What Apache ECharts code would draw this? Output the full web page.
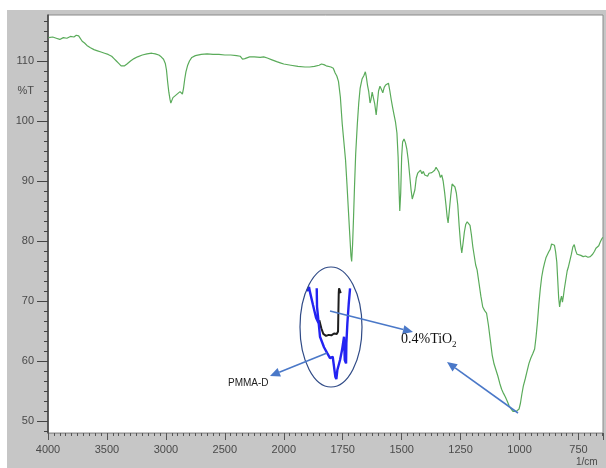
<!DOCTYPE html>
<html>
<head>
<meta charset="utf-8">
<script src="https://cdn.jsdelivr.net/npm/echarts@6/dist/echarts.min.js"></script>
<style>
  html, body { margin: 0; padding: 0; background: #fff; }
  #frame { position: absolute; left: 7px; top: 10px; width: 599px; height: 458px; background: #c6c6c6; }
  #c { position: absolute; left: 0; top: 0; width: 606px; height: 468px; }
</style>
</head>
<body>
<div id="frame"></div>
<div id="c"></div>
<script>
// FTIR spectrum, wavenumber (1/cm) vs %T
const wavenumbers = [
  3995, 3960, 3930, 3900, 3870, 3840, 3810, 3780, 3760, 3748, 3740, 3725, 3710, 3690, 3670, 3640,
  3610, 3580, 3550, 3520, 3490, 3460, 3440, 3420, 3400, 3380, 3365, 3350, 3330, 3300, 3270, 3240,
  3200, 3160, 3120, 3090, 3060, 3040, 3020, 3005, 2995, 2985, 2975, 2965, 2958, 2950, 2940, 2925,
  2910, 2895, 2880, 2870, 2860, 2850, 2840, 2830, 2815, 2800, 2780, 2750, 2700, 2650, 2600, 2550,
  2500, 2450, 2400, 2370, 2360, 2350, 2340, 2330, 2315, 2290, 2250, 2200, 2170, 2140, 2100, 2060,
  2030, 2000, 1970, 1940, 1910, 1890, 1870, 1850, 1840, 1830, 1820, 1812, 1800, 1790, 1782, 1775,
  1768, 1760, 1752, 1745, 1738, 1732, 1726, 1720, 1715, 1712, 1708, 1704, 1700, 1695, 1688, 1682,
  1676, 1668, 1660, 1654, 1650, 1645, 1640, 1634, 1630, 1625, 1620, 1614, 1608, 1603, 1598, 1592,
  1586, 1580, 1574, 1568, 1562, 1556, 1550, 1544, 1538, 1532, 1526, 1520, 1515, 1511, 1508, 1504,
  1500, 1496, 1490, 1484, 1478, 1472, 1466, 1460, 1455, 1450, 1444, 1438, 1432, 1426, 1420, 1414,
  1408, 1402, 1396, 1390, 1384, 1378, 1372, 1366, 1360, 1354, 1348, 1342, 1336, 1330, 1324, 1318,
  1312, 1307, 1303, 1298, 1292, 1286, 1280, 1274, 1268, 1262, 1256, 1250, 1245, 1240, 1234, 1228,
  1222, 1216, 1210, 1204, 1198, 1192, 1186, 1180, 1172, 1164, 1156, 1148, 1140, 1132, 1124, 1116,
  1108, 1100, 1092, 1084, 1076, 1068, 1060, 1052, 1044, 1036, 1028, 1020, 1014, 1008, 1002, 996,
  990, 984, 976, 968, 960, 952, 944, 936, 930, 924, 918, 912, 906, 900, 894, 888,
  882, 876, 870, 864, 858, 852, 847, 842, 838, 834, 830, 826, 822, 818, 814, 810,
  804, 798, 792, 786, 780, 774, 768, 762, 756, 750, 740, 730, 720, 710, 700, 690,
  682, 676, 670, 664, 658, 652, 647
];
const transmittance = [
  113.9, 114.0, 113.8, 113.6, 113.9, 113.8, 114.1, 114.0, 114.3, 114.6, 114.2, 113.9, 113.3, 113.0, 112.6, 112.2,
  111.9, 111.7, 111.5, 111.3, 111.1, 110.8, 110.4, 110.0, 109.6, 109.2, 109.0, 109.2, 109.5, 110.0, 110.4, 110.7,
  111.0, 111.2, 111.3, 111.2, 111.0, 110.7, 110.3, 109.6, 108.5, 106.5, 104.8, 103.6, 103.0, 103.4, 103.9, 104.2,
  104.4, 104.7, 104.9, 104.6, 104.5, 105.5, 107.0, 108.2, 109.3, 110.0, 110.6, 110.9, 111.1, 111.2, 111.1, 111.1,
  111.0, 111.0, 110.9, 110.8, 110.6, 110.3, 110.6, 110.4, 110.7, 110.7, 110.7, 110.6, 110.7, 110.5, 110.2, 109.9,
  109.7, 109.5, 109.3, 109.1, 109.0, 109.0, 109.1, 109.3, 109.5, 109.4, 109.2, 109.4, 109.0, 108.8, 108.0, 107.5,
  106.6, 104.0, 99.5, 96.5, 93.5, 89.5, 85.2, 81.0, 77.5, 76.6, 79.5, 84.0, 89.0, 94.5, 99.5, 103.0,
  105.5, 107.0, 107.6, 108.2, 107.4, 106.0, 105.0, 103.0, 103.6, 104.8, 104.5, 102.8, 101.0, 103.0, 105.0, 105.8,
  105.3, 104.7, 105.6, 106.0, 105.7, 106.3, 105.0, 103.5, 102.2, 101.0, 99.8, 98.0, 94.0, 88.5, 85.0, 88.0,
  94.0, 96.5, 97.0, 96.4, 95.3, 93.5, 91.0, 88.5, 87.0, 86.8, 88.5, 90.5, 91.3, 91.0, 91.8, 91.2,
  91.6, 91.0, 90.7, 90.8, 91.3, 91.6, 91.4, 91.2, 91.8, 92.3, 92.2, 91.5, 90.6, 91.0, 90.0, 88.2,
  86.0, 84.0, 83.0, 85.0, 87.5, 89.5, 89.8, 89.0, 88.0, 86.0, 82.5, 79.5, 78.0, 79.5, 81.5, 82.8,
  83.2, 83.0, 82.6, 81.0, 79.0, 77.5, 76.0, 75.2, 73.0, 70.8, 69.0, 68.4, 68.0, 66.0, 63.5, 61.0,
  59.5, 58.5, 57.5, 56.3, 55.3, 54.6, 54.0, 53.3, 52.5, 52.0, 51.6, 51.4, 51.6, 51.5, 52.0, 53.0,
  54.5, 55.8, 57.0, 58.3, 59.6, 60.5, 61.2, 62.0, 64.0, 66.5, 69.5, 72.0, 74.0, 75.3, 76.3, 77.2,
  77.7, 78.2, 78.6, 79.5, 79.6, 79.3, 78.2, 76.5, 73.5, 70.5, 69.0, 70.2, 70.8, 69.8, 70.8, 72.0,
  73.5, 75.0, 75.8, 76.8, 77.8, 79.0, 79.4, 78.4, 77.8, 77.5, 77.6, 77.4, 77.5, 77.3, 77.4, 77.8,
  78.3, 78.8, 78.6, 79.2, 79.8, 80.3, 80.6
];

// Inset: carbonyl region of the two samples
const insetPmmaWn = [1783.8, 1779.2, 1776.9, 1770.0, 1763.0, 1756.8, 1760.7, 1761.4, 1760.7, 1756.8,
  1753.8, 1744.6, 1736.9, 1730.7, 1724.5, 1721.5, 1718.5, 1716.1, 1713.8, 1707.6, 1703.0, 1698.4,
  1696.7, 1693.7, 1693.0, 1690.7, 1687.5, 1684.5];
const insetPmmaT = [73.7, 74.6, 73.5, 70.8, 68.1, 66.9, 70.4, 74.3, 70.4, 66.9,
  64.1, 61.9, 60.6, 59.6, 59.9, 57.8, 55.7, 55.2, 57.1, 59.2, 61.3, 64.1,
  59.2, 58.5, 62.7, 66.9, 71.1, 74.3];
const insetTiO2Wn = [1755.4, 1750.8, 1746.2, 1739.9, 1733.7, 1727.7, 1721.5, 1715.2, 1712.2, 1711.5, 1710.6, 1709.9,
  1706.0, 1706.0];
const insetTiO2T = [67.6, 65.9, 64.7, 64.3, 64.5, 64.4, 64.8, 64.7, 65.2, 69.0, 73.3, 74.3, 74.3, 73.3];

// Axis labels
const xTickLabels = [4000, 3500, 3000, 2500, 2000, 1750, 1500, 1250, 1000, 750];
const yTickLabels = [50, 60, 70, 80, 90, 100, 110];

// Instrument-style split scale: 1/cm above 2000 at half the resolution of below 2000
function toAxis(w) { return w >= 2000 ? 4000 - w : 2000 + 2 * (2000 - w); }

const Y_MIN = 48, Y_MAX = 117.67;
const minorY = [];
for (let k = 0; ; k++) {
  const v = 50 + (k - 1) * 10 / 6;
  if (v > Y_MAX) break;
  if (v >= Y_MIN) minorY.push(v);
}

const spectrum = wavenumbers.map((w, i) => [toAxis(w), transmittance[i]]);
const pmma = insetPmmaWn.map((w, i) => [w, insetPmmaT[i]]);
const tio2 = insetTiO2Wn.map((w, i) => [w, insetTiO2T[i]]);

// arrow helper: line + filled head
const ARROW = '#4a78c8';
function arrow(x1, y1, x2, y2) {
  const dx = x2 - x1, dy = y2 - y1, L = Math.hypot(dx, dy);
  const ux = dx / L, uy = dy / L, px = -uy, py = ux;
  const hl = 10, hw = 4.5;
  const bx = x2 - ux * hl, by = y2 - uy * hl;
  return [
    { type: 'line', z: 100, shape: { x1: x1, y1: y1, x2: bx, y2: by }, style: { stroke: ARROW, lineWidth: 1.6 } },
    { type: 'polygon', z: 100, shape: { points: [[x2, y2], [bx + px * hw, by + py * hw], [bx - px * hw, by - py * hw]] },
      style: { fill: ARROW } }
  ];
}

const chart = echarts.init(document.getElementById('c'), null, { renderer: 'canvas' });
const labelFont = { color: '#4a4a4a', fontSize: 11, fontFamily: 'Liberation Sans, Arial, sans-serif' };

chart.setOption({
  animation: false,
  backgroundColor: 'transparent',
  grid: [
    { left: 48, right: 2, top: 15, bottom: 35, show: true, backgroundColor: '#ffffff', borderColor: '#8a8a8a', borderWidth: 1 },
    { left: 300, top: 285, width: 52, height: 95, show: false }
  ],
  xAxis: [
    {
      type: 'value', gridIndex: 0, min: 0, max: toAxis(646), interval: 500,
      axisLine: { show: true, lineStyle: { color: '#9a9a9a', width: 1 } },
      axisTick: { show: true, length: 7, lineStyle: { color: '#555' } },
      minorTick: { show: true, splitNumber: 10, length: 3, lineStyle: { color: '#555' } },
      axisLabel: Object.assign({ margin: 11, formatter: v => { const i = Math.round(v / 500); return (Math.abs(v - i * 500) < 1e-6 && i < xTickLabels.length) ? String(xTickLabels[i]) : ''; } }, labelFont),
      splitLine: { show: false }
    },
    { type: 'value', gridIndex: 1, min: 1680, max: 1800, inverse: true, show: false }
  ],
  yAxis: [
    {
      type: 'value', gridIndex: 0, min: Y_MIN, max: Y_MAX,
      axisLine: { show: true, lineStyle: { color: '#3c3c3c', width: 1.5 } },
      axisTick: { show: true, length: 11, customValues: yTickLabels, lineStyle: { color: '#444' } },
      axisLabel: Object.assign({ margin: 14, customValues: yTickLabels.concat([105]), formatter: v => (Math.abs(v - 105) < 1e-6 ? '%T' : String(v)) }, labelFont),
      splitLine: { show: false }
    },
    {
      type: 'value', gridIndex: 0, min: Y_MIN, max: Y_MAX, position: 'left',
      axisLine: { show: false },
      axisTick: { show: true, length: 4, customValues: minorY, lineStyle: { color: '#444' } },
      axisLabel: { show: false },
      splitLine: { show: false }
    },
    { type: 'value', gridIndex: 1, min: 55, max: 75, show: false }
  ],
  series: [
    {
      type: 'line', xAxisIndex: 0, yAxisIndex: 0, data: spectrum, showSymbol: false, silent: true,
      lineStyle: { color: '#5aab5a', width: 1.2 }
    },
    {
      type: 'line', xAxisIndex: 1, yAxisIndex: 2, data: tio2, showSymbol: false, silent: true, z: 20,
      lineStyle: { color: '#1e1e1e', width: 2 }
    },
    {
      type: 'line', xAxisIndex: 1, yAxisIndex: 2, data: pmma, showSymbol: false, silent: true, z: 21,
      lineStyle: { color: '#2323f2', width: 2.4 }
    }
  ],
  graphic: [
    { type: 'ellipse', z: 100, shape: { cx: 331, cy: 327, rx: 31, ry: 60 }, style: { fill: null, stroke: '#2f4a86', lineWidth: 1.2 } },
    ...arrow(330, 311, 413, 332),
    ...arrow(327, 353, 270, 376),
    ...arrow(518, 413, 447, 362),
    { type: 'text', z: 100, left: 401, top: 332, style: { text: '0.4%TiO', fill: '#111', font: '14px "Liberation Serif", "Times New Roman", serif' } },
    { type: 'text', z: 100, left: 452, top: 340, style: { text: '2', fill: '#111', font: '9px "Liberation Serif", "Times New Roman", serif' } },
    { type: 'text', z: 100, left: 228, top: 378, style: { text: 'PMMA-D', fill: '#222', font: '10px "Liberation Sans", Arial, sans-serif' } },
    { type: 'text', z: 100, left: 576, top: 457, style: { text: '1/cm', fill: '#4a4a4a', font: '10px "Liberation Sans", Arial, sans-serif' } }
  ]
});
</script>
</body>
</html>
